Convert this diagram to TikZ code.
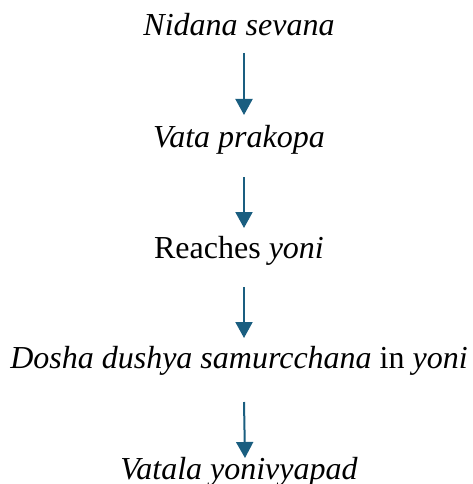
\documentclass[tikz,border=0pt]{standalone}
\usepackage{fontspec}
\setmainfont{Liberation Serif}
\usepackage{xcolor}
\usepackage{tikz}
\usetikzlibrary{arrows.meta}

\definecolor{flowblue}{RGB}{26,94,128}

\begin{document}
\begin{tikzpicture}[
                x=1pt, y=1pt,
                stage/.style={inner sep=0pt, anchor=base, font=\fontsize{32}{38}\selectfont},
                flow/.style={
                    draw=flowblue,
                    line width=2pt,
                    -{Triangle[width=17pt,length=16pt,fill=flowblue]}
                }
            ]
                \useasboundingbox (0,0) rectangle (473,-484);

                \node[stage] (nidana) at (239,-36) {\textit{Nidana sevana}};
                \node[stage] (vata) at (239,-147) {\textit{Vata prakopa}};
                \node[stage] (reaches) at (239,-258) {Reaches \textit{yoni}};
                \node[stage] (dosha) at (239,-368) {\textit{Dosha dushya samurcchana} in \textit{yoni}};
                \node[stage] (vatala) at (239,-479) {\textit{Vatala yonivyapad}};

                \draw[flow] ([xshift=5pt,yshift=-17pt]nidana.base) -- ([xshift=5pt,yshift=32pt]vata.base);
                \draw[flow] ([xshift=5pt,yshift=-30pt]vata.base) -- ([xshift=5pt,yshift=30pt]reaches.base);
                \draw[flow] ([xshift=5pt,yshift=-29pt]reaches.base) -- ([xshift=5pt,yshift=30pt]dosha.base);
                \draw[flow] ([xshift=5pt,yshift=-34pt]dosha.base) -- ([xshift=6pt,yshift=21pt]vatala.base);

             \end{tikzpicture}
\end{document}
